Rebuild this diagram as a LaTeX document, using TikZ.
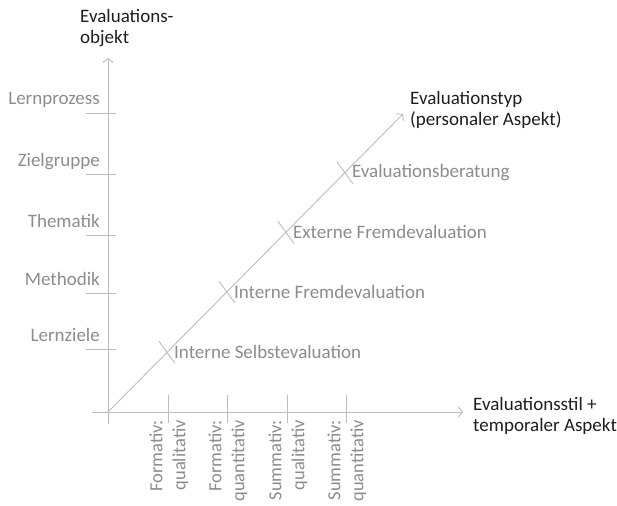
\documentclass[tikz,border=0pt]{standalone}
\usepackage{fontspec}
\setmainfont{Carlito}
\usetikzlibrary{arrows.meta}
\definecolor{axisgray}{HTML}{BDBDBD}
\definecolor{lblgray}{HTML}{8C8C8C}
\definecolor{ttlblack}{HTML}{1E1E1E}
\begin{document}
\begin{tikzpicture}[x=1pt,y=-1pt,
  axisline/.style={draw=axisgray, line width=0.9pt, -{Straight Barb[length=4pt,width=10pt,line width=0.9pt]}},
  tickline/.style={draw=axisgray, line width=0.9pt},
  lbl/.style={text=lblgray, font=\fontsize{19}{23}\selectfont, inner sep=0pt},
  rlbl/.style={text=lblgray, font=\fontsize{18.5}{23}\selectfont, inner sep=0pt},
  ttl/.style={text=ttlblack, font=\fontsize{19}{21.5}\selectfont, inner sep=0pt, align=left}]
\useasboundingbox (0,0) rectangle (617,505);
% axes
\coordinate (O) at (108,412);
\coordinate (vs) at (108,424);
\coordinate (ve) at (108,58);
\coordinate (hs) at (92,412);
\coordinate (he) at (463,412);
\coordinate (de) at (403,114);
\draw[axisline] (vs) -- (ve);
\draw[axisline] (hs) -- (he);
\draw[axisline] (O) -- (de);
% vertical axis ticks and labels
\foreach \y/\t/\n in {349/Lernziele/a, 293/Methodik/b, 235/Thematik/c, 174/Zielgruppe/d, 113/Lernprozess/e}{
  \coordinate (vl\n) at (86,\y);
  \coordinate (vr\n) at (116,\y);
  \draw[tickline] (vl\n) -- (vr\n);
  \node[lbl, anchor=base east] (vt\n) at (100,\y-8) {\t};
}
% horizontal axis ticks and labels
\foreach \x/\t/\n in {168/{Formativ:\\qualitativ}/a, 227/{Formativ:\\quantitativ}/b, 287/{Summativ:\\qualitativ}/c, 346/{Summativ:\\quantitativ}/d}{
  \coordinate (ht\n) at (\x,395);
  \coordinate (hb\n) at (\x,423);
  \draw[tickline] (ht\n) -- (hb\n);
  \node[rlbl, rotate=90, anchor=east, align=right] (hl\n) at (\x+1,420) {\t};
}
% diagonal ticks and labels
\foreach \p/\t/\n in {0.2/Interne Selbstevaluation/a, 0.403/Interne Fremdevaluation/b, 0.603/Externe Fremdevaluation/c, 0.803/Evaluationsberatung/d}{
  \path (O) -- (de) coordinate[pos=\p] (dp\n);
  \coordinate (dt\n) at ([shift={(-8,-11)}]dp\n);
  \coordinate (db\n) at ([shift={(8,11)}]dp\n);
  \draw[tickline] (dt\n) -- (db\n);
  \node[lbl, anchor=west] (dl\n) at ([shift={(7,0)}]dp\n) {\t};
}
% axis titles
\node[ttl, anchor=north west] (tv) at (80,9) {Evaluations-\\objekt};
\node[ttl, anchor=north west] (td) at (410,91) {Evaluationstyp\\(personaler Aspekt)};
\node[ttl, anchor=north west] (th) at (473,397) {Evaluationsstil +\\temporaler Aspekt};
\end{tikzpicture}
\end{document}
